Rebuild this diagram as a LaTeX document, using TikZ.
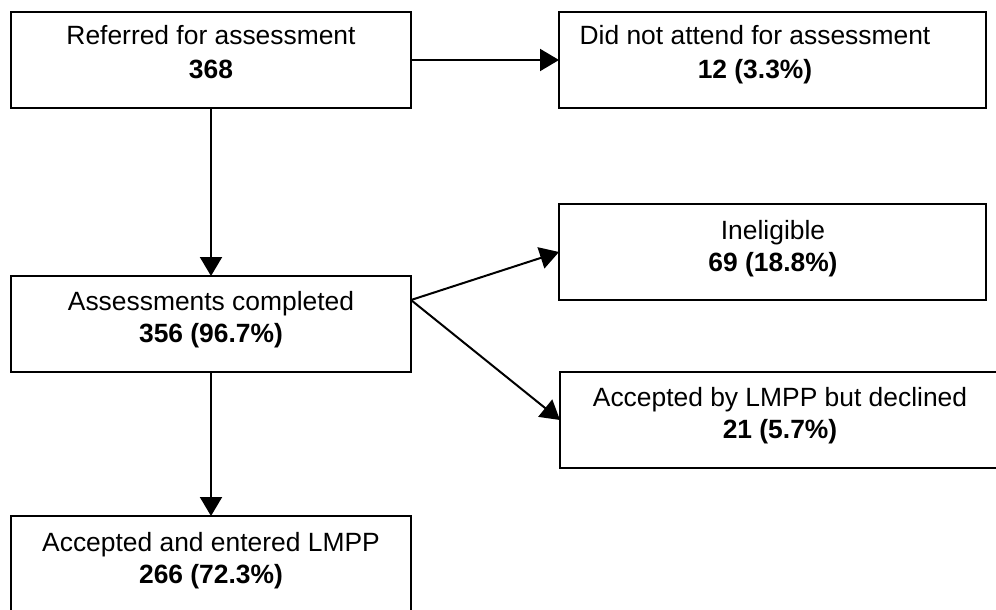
\documentclass[tikz,border=0pt]{standalone}
\usepackage{fontspec}
\setmainfont{Liberation Sans}
\usetikzlibrary{arrows.meta,calc}
\begin{document}
\begin{tikzpicture}[x=1pt,y=-1pt,
  box/.style={draw=black,line width=2pt,inner sep=0pt,outer sep=0pt,fill=white},
  txt/.style={anchor=base,inner sep=0pt,font=\fontsize{26.4}{33}\selectfont},
  btxt/.style={txt,font=\fontsize{26.4}{33}\selectfont\bfseries},
  conn/.style={line width=2pt,-{Triangle[length=19pt,width=22pt]}}]
\useasboundingbox (0,0) rectangle (996,610);
\clip (0,0) rectangle (996,610);
\fill[white] (0,0) rectangle (996,610);
% boxes
\node[box,minimum width=400pt,minimum height=96pt] (A) at (211,60) {};
\node[box,minimum width=427pt,minimum height=96pt] (B) at (772.5,60) {};
\node[box,minimum width=427pt,minimum height=96pt] (C) at (772.5,252) {};
\node[box,minimum width=400pt,minimum height=96pt] (D) at (211,324) {};
\node[box,minimum width=441pt,minimum height=96pt] (E) at (780.5,420) {};
\node[box,minimum width=400pt,minimum height=110pt] (F) at (211,571) {};
% texts
\node[txt]  (A1) at (211,45) {Referred for assessment};
\node[btxt] (A2) at (211,78) {368};
\node[txt]  (B1) at (755,45) {Did not attend for assessment};
\node[btxt] (B2) at (755,78) {12 (3.3\%)};
\node[txt]  (C1) at (773,239) {Ineligible};
\node[btxt] (C2) at (773,271) {69 (18.8\%)};
\node[txt]  (D1) at (211,310) {Assessments completed};
\node[btxt] (D2) at (211,342) {356 (96.7\%)};
\node[txt]  (E1) at (780,406) {Accepted by LMPP but declined};
\node[btxt] (E2) at (780,438) {21 (5.7\%)};
\node[txt]  (F1) at (211,551) {Accepted and entered LMPP};
\node[btxt] (F2) at (211,583) {266 (72.3\%)};
% connectors
\coordinate (Dout) at ($(D.north east)!0.25!(D.south east)$);
\draw[conn] (A.east) -- (B.west);
\draw[conn] (A.south) -- (D.north);
\draw[conn] (Dout) -- (C.west);
\draw[conn] (Dout) -- (E.west);
\draw[conn] (D.south) -- (F.north);
\end{tikzpicture}
\end{document}
